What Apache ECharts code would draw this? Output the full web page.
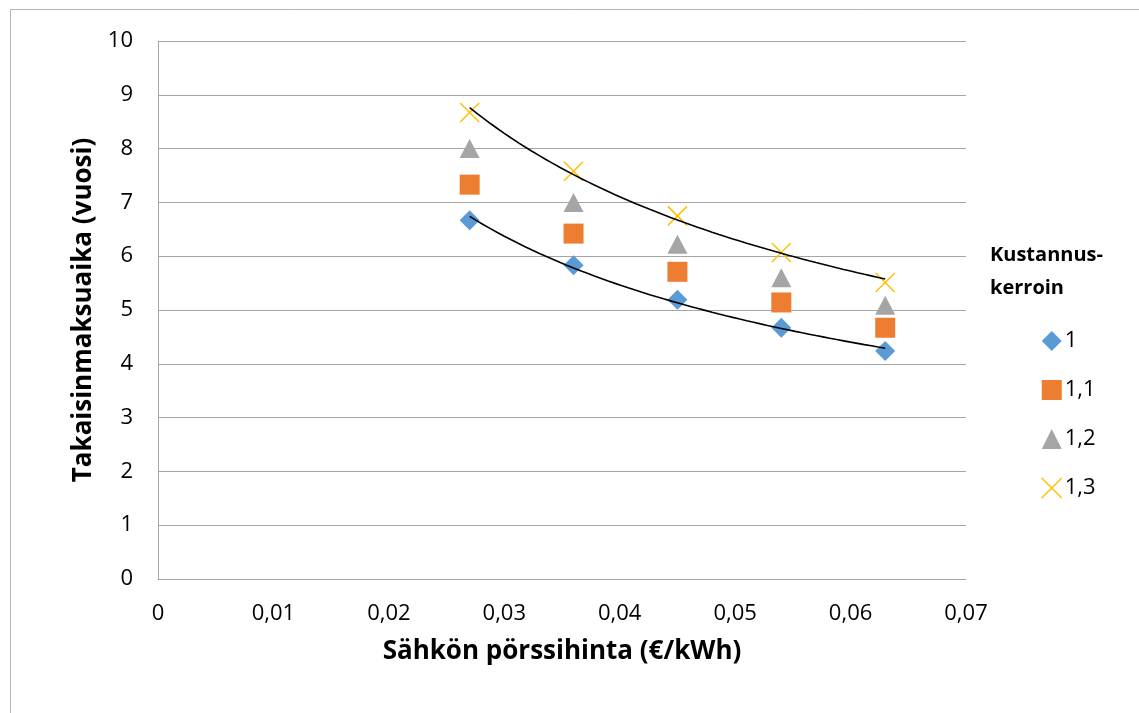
<!DOCTYPE html>
<html>
<head>
<meta charset="utf-8">
<style>
  html, body { margin: 0; padding: 0; background: #fff; }
  #chart { width: 1139px; height: 713px; }
</style>
<script src="https://cdn.jsdelivr.net/npm/echarts@6/dist/echarts.min.js"></script>
</head>
<body>
<div id="chart"></div>
<script>
// Electricity spot price (€/kWh)
const prices = [0.027, 0.036, 0.045, 0.054, 0.063];
// Payback time (years) per cost factor
const factorNames = ['1', '1,1', '1,2', '1,3'];
const payback1 = [6.67, 5.83, 5.19, 4.67, 4.24];
const payback11 = [7.33, 6.42, 5.71, 5.14, 4.67];
const payback12 = [8.00, 7.00, 6.22, 5.60, 5.09];
const payback13 = [8.67, 7.58, 6.75, 6.07, 5.51];
const xTicks = [0, 0.01, 0.02, 0.03, 0.04, 0.05, 0.06, 0.07];

const FONT = '"Open Sans", "Noto Sans", sans-serif';
const colors = ['#5b9bd5', '#ed7d31', '#a5a5a5', '#ffc000'];
const crossPath = 'path://M0,0L10,10M10,0L0,10';

// Power-law trendline y = a * x^b fitted in log-log space
function powerTrend(xs, ys) {
  const n = xs.length;
  let sx = 0, sy = 0, sxx = 0, sxy = 0;
  for (let i = 0; i < n; i++) {
    const lx = Math.log(xs[i]), ly = Math.log(ys[i]);
    sx += lx; sy += ly; sxx += lx * lx; sxy += lx * ly;
  }
  const b = (n * sxy - sx * sy) / (n * sxx - sx * sx);
  const a = Math.exp((sy - b * sx) / n);
  const x0 = Math.min(...xs), x1 = Math.max(...xs);
  const pts = [];
  const steps = 60;
  for (let i = 0; i <= steps; i++) {
    const x = x0 + (x1 - x0) * i / steps;
    pts.push([x, a * Math.pow(x, b)]);
  }
  return pts;
}

const pair = (ys) => prices.map((x, i) => [x, ys[i]]);
const symbols = ['diamond', 'rect', 'triangle', crossPath];
const markerStyle = (i) => i === 3
  ? { color: 'rgba(0,0,0,0)', borderColor: colors[3], borderWidth: 1.5, opacity: 1 }
  : { color: colors[i], opacity: 1 };

const scatterSeries = [payback1, payback11, payback12, payback13].map((ys, i) => ({
  name: factorNames[i],
  type: 'scatter',
  data: pair(ys),
  symbol: symbols[i],
  symbolSize: i === 3 ? 19 : (i === 2 ? [20, 19] : 20),
  z: 3,
  itemStyle: markerStyle(i)
}));

const trendStyle = {
  type: 'line', showSymbol: false, symbol: 'none', silent: true, z: 4,
  lineStyle: { color: '#000', width: 1.6 }, smooth: false
};

const chart = echarts.init(document.getElementById('chart'), null, { renderer: 'canvas' });
chart.setOption({
  animation: false,
  backgroundColor: '#fff',
  grid: { left: 158, right: 173, top: 41, bottom: 134, containLabel: false },
  xAxis: {
    type: 'value', min: xTicks[0], max: xTicks[xTicks.length - 1], interval: 0.01,
    name: 'Sähkön pörssihinta (€/kWh)', nameLocation: 'middle', nameGap: 60,
    nameTextStyle: { fontFamily: FONT, fontWeight: 'bold', fontSize: 26, color: '#000' },
    axisLine: { show: true, lineStyle: { color: '#a6a6a6', width: 1 } },
    axisTick: { show: false },
    splitLine: { show: false },
    axisLabel: {
      fontFamily: FONT, fontSize: 22, color: '#000', margin: 24,
      formatter: v => v === 0 ? '0' : v.toFixed(2).replace('.', ',')
    }
  },
  yAxis: {
    type: 'value', min: 0, max: 10, interval: 1,
    name: 'Takaisinmaksuaika (vuosi)', nameLocation: 'middle', nameGap: 61, nameRotate: 90,
    nameTextStyle: { fontFamily: FONT, fontWeight: 'bold', fontSize: 26, color: '#000' },
    axisLine: { show: true, lineStyle: { color: '#a6a6a6', width: 1 } },
    axisTick: { show: false },
    splitLine: { show: true, lineStyle: { color: '#a6a6a6', width: 1 } },
    axisLabel: { fontFamily: FONT, fontSize: 22, color: '#000', margin: 25 }
  },
  legend: {
    orient: 'vertical', left: 1036, top: 325,
    itemWidth: 20, itemHeight: 20, itemGap: 27,
    textStyle: { fontFamily: FONT, fontSize: 22, color: '#000', padding: [0, 0, 0, -2] },
    data: factorNames.map((n, i) => ({
      name: n,
      icon: symbols[i],
      itemStyle: markerStyle(i)
    }))
  },
  graphic: [
    {
      type: 'rect', silent: true, z: -1,
      shape: { x: 10.5, y: 9.5, width: 1200, height: 800 },
      style: { fill: 'none', stroke: '#b4b4b4', lineWidth: 1 }
    },
    {
      type: 'text', left: 990, top: 239, silent: true,
      style: {
        text: 'Kustannus-\nkerroin', fontFamily: FONT, fontWeight: 'bold', fontSize: 20,
        fill: '#000', align: 'center', lineHeight: 33, x: 64
      }
    }
  ],
  series: [
    ...scatterSeries,
    Object.assign({ name: 'trend1', data: powerTrend(prices, payback1) }, trendStyle),
    Object.assign({ name: 'trend13', data: powerTrend(prices, payback13) }, trendStyle)
  ]
});
</script>
</body>
</html>
